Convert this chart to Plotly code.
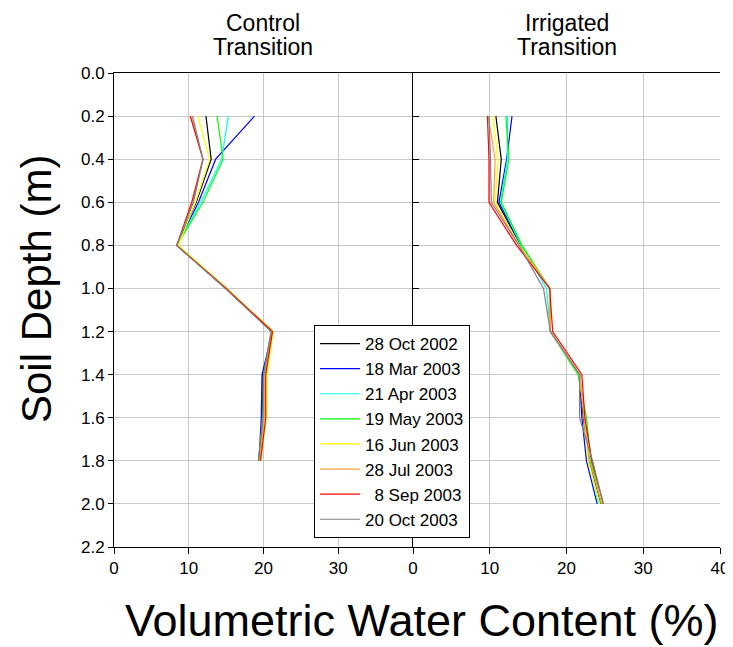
import plotly.graph_objects as go

dates = ["28 Oct 2002", "18 Mar 2003", "21 Apr 2003", "19 May 2003",
         "16 Jun 2003", "28 Jul 2003", "\u00a0\u00a08 Sep 2003", "20 Oct 2003"]
colors = ["#000000", "#0000FF", "#00FFFF", "#00FF00",
          "#FFFF00", "#FFA040", "#FF0000", "#808080"]

depth_control = [0.2, 0.4, 0.6, 0.8, 1.0, 1.2, 1.4, 1.6, 1.8]
control = {
    "28 Oct 2002": [12.3, 13.0, 11.0, 8.4, 15.0, 21.2, 19.9, 19.9, 19.5],
    "18 Mar 2003": [18.8, 13.6, 11.3, 8.4, 15.0, 21.2, 19.8, 19.7, 19.4],
    "21 Apr 2003": [15.3, 14.4, 11.6, 8.4, 15.0, 21.2, 20.0, 20.0, 19.5],
    "19 May 2003": [13.8, 14.6, 11.9, 8.4, 15.0, 21.2, 20.1, 20.0, 19.5],
    "16 Jun 2003": [11.2, 12.8, 10.9, 8.6, 15.1, 21.3, 20.5, 20.4, 19.6],
    "28 Jul 2003": [10.3, 11.9, 10.6, 8.4, 15.0, 21.2, 20.2, 20.1, 19.5],
    "8 Sep 2003":  [10.2, 11.9, 10.4, 8.4, 15.0, 21.2, 20.3, 20.3, 19.6],
    "20 Oct 2003": [10.5, 11.9, 10.6, 8.4, 14.9, 21.0, 20.0, 19.9, 19.3],
}

depth_irrigated = [0.2, 0.4, 0.6, 0.8, 1.0, 1.2, 1.4, 1.6, 1.8, 2.0]
irrigated = {
    "28 Oct 2002": [10.8, 11.5, 11.0, 14.0, 17.8, 17.9, 21.7, 22.2, 23.0, 24.5],
    "18 Mar 2003": [12.9, 12.2, 11.2, 14.0, 17.8, 17.9, 21.7, 22.0, 22.6, 24.0],
    "21 Apr 2003": [12.3, 12.3, 11.4, 14.1, 17.4, 17.9, 21.7, 22.4, 22.9, 24.2],
    "19 May 2003": [12.1, 12.5, 11.5, 14.2, 17.8, 17.9, 21.5, 22.6, 23.2, 24.5],
    "16 Jun 2003": [10.4, 11.1, 10.7, 13.9, 17.8, 17.9, 21.7, 22.3, 22.8, 24.3],
    "28 Jul 2003": [9.8, 10.7, 10.5, 13.8, 17.8, 17.9, 21.7, 22.3, 23.0, 24.6],
    "8 Sep 2003":  [9.7, 9.9, 9.9, 13.5, 17.8, 18.2, 22.0, 22.4, 23.3, 24.8],
    "20 Oct 2003": [9.9, 10.1, 10.2, 13.8, 17.0, 17.9, 21.7, 21.7, 23.4, 24.8],
}

x_ticks_left = [0, 10, 20, 30]
x_ticks_right = [0, 10, 20, 30, 40]
y_ticks = [0.0, 0.2, 0.4, 0.6, 0.8, 1.0, 1.2, 1.4, 1.6, 1.8, 2.0, 2.2]

fig = go.Figure()
keys = list(control.keys())
for name, key, col in zip(dates, keys, colors):
    fig.add_trace(go.Scatter(x=control[key], y=depth_control, mode="lines",
                             name=name, line=dict(color=col, width=1.2),
                             xaxis="x", yaxis="y"))
for name, key, col in zip(dates, keys, colors):
    fig.add_trace(go.Scatter(x=irrigated[key], y=depth_irrigated, mode="lines",
                             name=name, line=dict(color=col, width=1.2),
                             xaxis="x2", yaxis="y2", showlegend=False))

OFF = 8  # page body margin
FW, FH = 733 - OFF, 647 - OFF
L, T, R, B = 114 - OFF, 73 - OFF, 720 - OFF, 547 - OFF
W, H = R - L, B - T
split = (413 - OFF - L) / W
grid = "#c8c8c8"
font = "Arial, Liberation Sans, sans-serif"


def px(x):
    return (x - OFF - L) / W


def py(y):
    return (B - (y - OFF)) / H


def ann(text, x, y, size, yanchor="middle", angle=0):
    return dict(text=text, x=px(x), y=py(y), xref="paper", yref="paper",
                showarrow=False, font=dict(size=size), textangle=angle,
                xanchor="center", yanchor=yanchor)


fig.update_layout(
    width=FW, height=FH,
    margin=dict(l=L, r=FW - R, t=T, b=FH - B, autoexpand=False),
    paper_bgcolor="white", plot_bgcolor="white",
    font=dict(family=font, color="black", size=17),
    xaxis=dict(domain=[0, split], range=[0, 40], tickvals=x_ticks_left,
               showline=True, linecolor="black", linewidth=1, mirror=True,
               ticks="outside", ticklen=6, tickcolor="black",
               showgrid=True, gridcolor=grid, gridwidth=1, zeroline=False,
               tickfont=dict(size=17), anchor="y"),
    xaxis2=dict(domain=[split, 1], range=[0, 40], tickvals=x_ticks_right,
                showline=True, linecolor="black", linewidth=1, mirror=True,
                ticks="outside", ticklen=6, tickcolor="black",
                showgrid=True, gridcolor=grid, gridwidth=1, zeroline=False,
                tickfont=dict(size=17), anchor="y2"),
    yaxis=dict(range=[2.2, 0], tickvals=y_ticks, tickformat=".1f",
               showline=True, linecolor="black", linewidth=1,
               ticks="outside", ticklen=5, tickcolor="black",
               showgrid=True, gridcolor=grid, gridwidth=1, zeroline=False,
               tickfont=dict(size=17), anchor="x"),
    yaxis2=dict(range=[2.2, 0], tickvals=y_ticks, showticklabels=False,
                showline=True, linecolor="black", linewidth=1,
                ticks="inside", ticklen=6, tickcolor="black",
                showgrid=True, gridcolor=grid, gridwidth=1, zeroline=False,
                anchor="x2"),
    legend=dict(x=px(314), y=py(325), xanchor="left", yanchor="top",
                bgcolor="white", bordercolor="black", borderwidth=1,
                font=dict(size=17, family=font), itemwidth=40,
                tracegroupgap=0),
    annotations=[
        ann("Control", 263, 8, 23, yanchor="top"),
        ann("Transition", 263, 47, 23),
        ann("Irrigated", 567, 8, 23, yanchor="top"),
        ann("Transition", 567, 47, 23),
        ann("Volumetric Water Content (%)", 422, 620, 45),
        ann("Soil Depth (m)", 36, 289, 42, angle=-90),
    ],
)

fig.write_html("out.html")
